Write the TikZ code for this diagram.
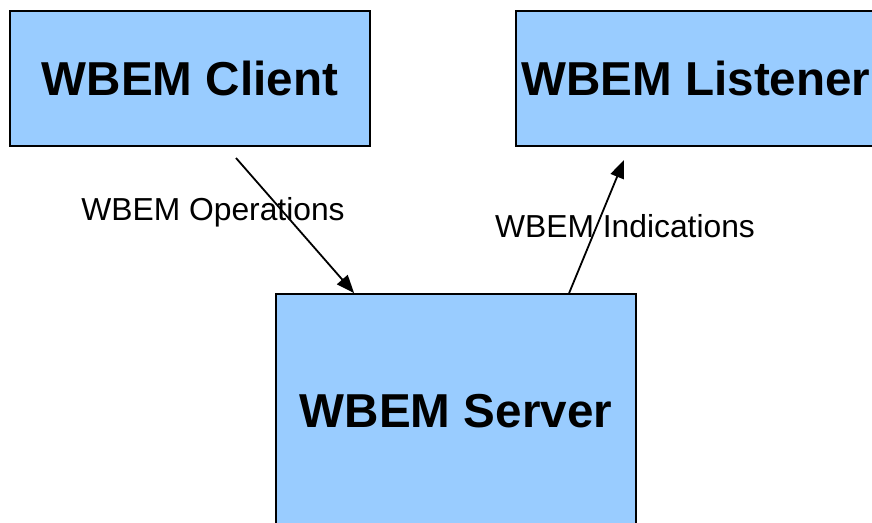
\documentclass[tikz,border=0pt]{standalone}
\usepackage{fontspec}
\setmainfont{Liberation Sans}
\usetikzlibrary{arrows.meta}
\definecolor{boxblue}{HTML}{99CCFF}
\tikzset{
    wbembox/.style={draw=black, line width=1.8pt, fill=boxblue, minimum width=360pt,
        inner sep=0pt, font=\fontsize{47.6}{57}\selectfont\bfseries},
    flowlabel/.style={anchor=base, inner sep=0pt, font=\fontsize{31.8}{38}\selectfont},
    flow/.style={line width=1.8pt, -{Triangle[length=18pt,width=14pt]}}
}

\begin{document}
\begin{tikzpicture}[x=1pt, y=-1pt]
    \useasboundingbox (0,0) rectangle (872,522);
    \clip (0,0) rectangle (872,522);

    \node[wbembox, minimum height=135pt] (client) at (190,78.5) {WBEM Client};
    \node[wbembox, minimum height=135pt] (listener) at (696,78.5) {WBEM Listener};
    \node[wbembox, minimum height=234pt] (server) at (456,411) {WBEM Server};

    % operations go down, indications come up
    \coordinate (opstart) at (236,158);
    \coordinate (indend) at (624,160);
    \draw[flow] (opstart) -- ([xshift=79pt]server.north west);
    \draw[flow] ([xshift=294pt]server.north west) -- (indend);

    \node[flowlabel] (oplabel) at (213,220.5) {WBEM Operations};
    \node[flowlabel] (indlabel) at (625,237.5) {WBEM Indications};
\end{tikzpicture}
\end{document}
